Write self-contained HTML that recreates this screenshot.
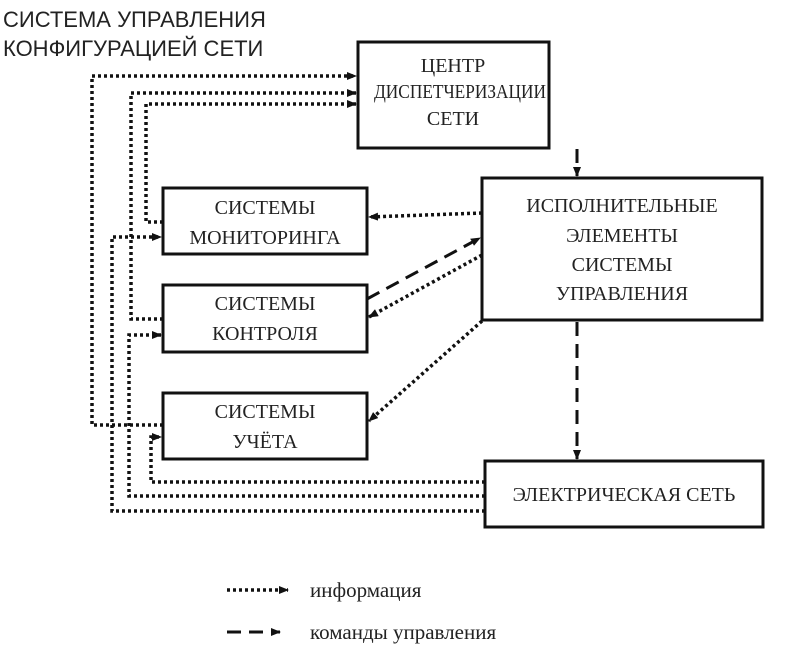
<!DOCTYPE html>
<html><head><meta charset="utf-8"><style>
html,body{margin:0;padding:0;background:#fff;width:807px;height:652px;overflow:hidden}
svg{display:block}
.b{fill:#fff;stroke:#111;stroke-width:3}
.d{fill:none;stroke:#111;stroke-width:3.5;stroke-dasharray:3 3}
.k{fill:none;stroke:#111;stroke-width:3;stroke-dasharray:14 8}
.t{font-family:"Liberation Serif",serif;font-size:20px;fill:#222;text-anchor:middle}
.s{font-family:"Liberation Sans",sans-serif;font-size:22px;fill:#222}
</style></head><body>
<svg width="807" height="652" viewBox="0 0 807 652">
<defs><marker id="a" markerWidth="10" markerHeight="8" refX="9" refY="4" orient="auto" markerUnits="userSpaceOnUse"><path d="M0,0 L10,4 L0,8z" fill="#111"/></marker></defs>
<text class="s" x="3" y="27">СИСТЕМА УПРАВЛЕНИЯ</text>
<text class="s" x="3" y="56">КОНФИГУРАЦИЕЙ СЕТИ</text>

<rect class="b" x="358" y="42" width="191" height="106"/>
<text class="t" x="453" y="72">ЦЕНТР</text>
<text class="t" x="460" y="98" textLength="172" lengthAdjust="spacingAndGlyphs">ДИСПЕТЧЕРИЗАЦИИ</text>
<text class="t" x="453" y="125">СЕТИ</text>

<rect class="b" x="482" y="178" width="280" height="142"/>
<text class="t" x="622" y="212">ИСПОЛНИТЕЛЬНЫЕ</text>
<text class="t" x="622" y="242">ЭЛЕМЕНТЫ</text>
<text class="t" x="622" y="271">СИСТЕМЫ</text>
<text class="t" x="622" y="300">УПРАВЛЕНИЯ</text>

<rect class="b" x="163" y="188" width="204" height="66"/>
<text class="t" x="265" y="214">СИСТЕМЫ</text>
<text class="t" x="265" y="244">МОНИТОРИНГА</text>

<rect class="b" x="163" y="285" width="204" height="67"/>
<text class="t" x="265" y="310">СИСТЕМЫ</text>
<text class="t" x="265" y="340">КОНТРОЛЯ</text>

<rect class="b" x="163" y="393" width="204" height="66"/>
<text class="t" x="265" y="418">СИСТЕМЫ</text>
<text class="t" x="265" y="448">УЧЁТА</text>

<rect class="b" x="485" y="461" width="278" height="66"/>
<text class="t" x="624" y="501">ЭЛЕКТРИЧЕСКАЯ СЕТЬ</text>

<path class="d" d="M163,425 H92 V76 H356" marker-end="url(#a)"/>
<path class="d" d="M163,319 H131 V93 H356" marker-end="url(#a)"/>
<path class="d" d="M163,222 H146 V104 H356" marker-end="url(#a)"/>
<path class="d" d="M485,482 H151 V437 H161" marker-end="url(#a)"/>
<path class="d" d="M485,496 H129 V335 H161" marker-end="url(#a)"/>
<path class="d" d="M485,511 H112 V237 H161" marker-end="url(#a)"/>
<path class="d" d="M482,213 L369,217" marker-end="url(#a)"/>
<path class="d" d="M482,255 L369,317" marker-end="url(#a)"/>
<path class="d" d="M482,321 L369,421" marker-end="url(#a)"/>
<path class="k" d="M367,299 L480,238" marker-end="url(#a)"/>
<path class="k" d="M577,149 V176" marker-end="url(#a)"/>
<path class="k" d="M577,322 V459" marker-end="url(#a)"/>

<path class="d" d="M227,590 H288" marker-end="url(#a)"/>
<text class="t" x="310" y="597" style="text-anchor:start;font-size:21px">информация</text>
<path class="k" d="M227,632 H280" marker-end="url(#a)"/>
<text class="t" x="310" y="639" style="text-anchor:start;font-size:21px">команды управления</text>
</svg>
</body></html>
